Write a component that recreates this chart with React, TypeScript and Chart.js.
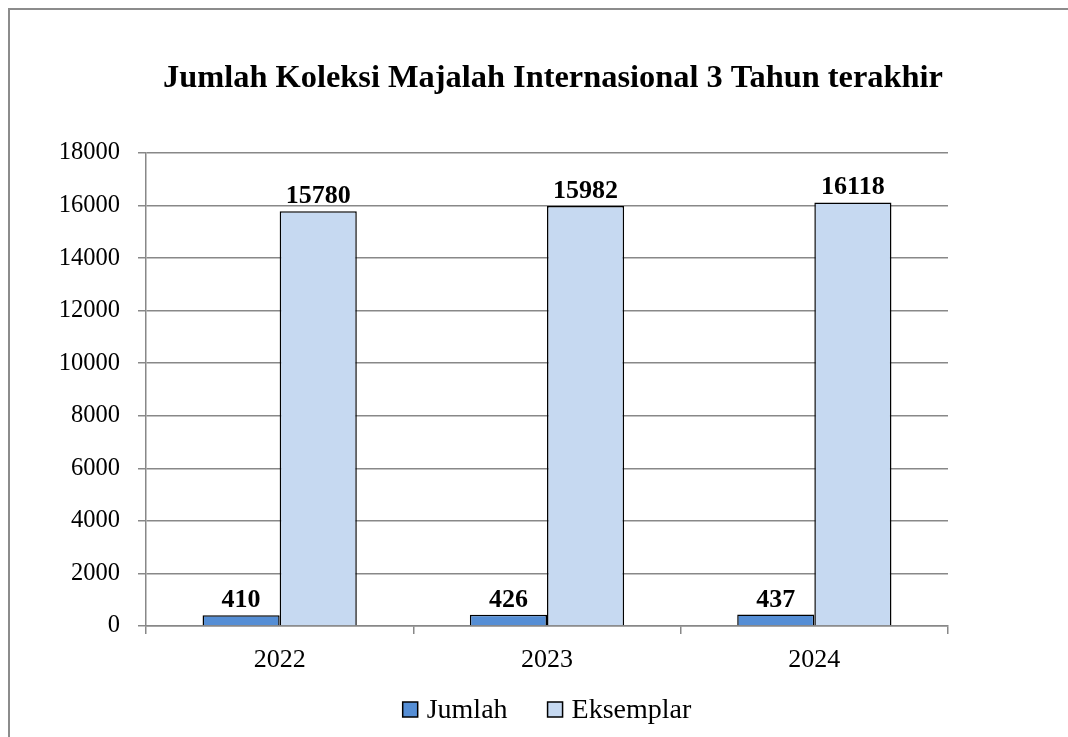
import React, { useEffect, useRef } from "react";
import { Chart, registerables } from "chart.js";

Chart.register(...registerables);

const categories = ["2022", "2023", "2024"];
const jumlahValues = [410, 426, 437];
const eksemplarValues = [15780, 15982, 16118];
const seriesNames = ["Jumlah", "Eksemplar"];
const seriesColors = ["#558ED5", "#C6D9F1"];
const titleText = "Jumlah Koleksi Majalah Internasional 3 Tahun terakhir";

const FONT = "'Liberation Serif', 'Times New Roman', serif";

const valueLabels = {
  id: "valueLabels",
  afterDatasetsDraw(chart: any) {
    const ctx = chart.ctx;
    ctx.save();
    ctx.font = `bold 26px ${FONT}`;
    ctx.fillStyle = "#000";
    ctx.textAlign = "center";
    ctx.textBaseline = "alphabetic";
    chart.data.datasets.forEach((ds: any, i: number) => {
      const meta = chart.getDatasetMeta(i);
      meta.data.forEach((bar: any, j: number) => {
        ctx.fillText(String(ds.data[j]), bar.x, bar.y - 8);
      });
    });
    ctx.restore();
  },
};

const titleAndLegend = {
  id: "titleAndLegend",
  afterDraw(chart: any) {
    const ctx = chart.ctx;
    const area = chart.chartArea;
    ctx.save();
    // title
    ctx.font = `bold 32.4px ${FONT}`;
    ctx.fillStyle = "#000";
    ctx.textAlign = "center";
    ctx.textBaseline = "alphabetic";
    ctx.fillText(titleText, 553, 87);
    // legend
    ctx.font = `28px ${FONT}`;
    const box = 15;
    const gap = 9;
    const itemGap = 40;
    const widths = chart.data.datasets.map((ds: any) => ctx.measureText(ds.label).width);
    const total =
      widths.reduce((a: number, w: number) => a + box + gap + w, 0) + itemGap * (widths.length - 1);
    let x = (area.left + area.right) / 2 - total / 2;
    const cy = 709.5;
    ctx.textAlign = "left";
    ctx.textBaseline = "middle";
    chart.data.datasets.forEach((ds: any, i: number) => {
      ctx.fillStyle = ds.backgroundColor;
      ctx.fillRect(x, cy - box / 2, box, box);
      ctx.strokeStyle = "#000";
      ctx.lineWidth = 1.5;
      ctx.strokeRect(x, cy - box / 2, box, box);
      ctx.fillStyle = "#000";
      ctx.fillText(ds.label, x + box + gap, cy + 1);
      x += box + gap + widths[i] + itemGap;
    });
    ctx.restore();
  },
};

export default function App() {
  const ref = useRef<HTMLCanvasElement>(null);
  useEffect(() => {
    if (!ref.current) return;
    const chart = new Chart(ref.current, {
      type: "bar",
      data: {
        labels: categories,
        datasets: [
          {
            label: seriesNames[0],
            data: jumlahValues,
            backgroundColor: seriesColors[0],
            borderColor: "#000",
            borderWidth: 1.5,
            categoryPercentage: 0.577,
            barPercentage: 1,
          },
          {
            label: seriesNames[1],
            data: eksemplarValues,
            backgroundColor: seriesColors[1],
            borderColor: "#000",
            borderWidth: 1.5,
            categoryPercentage: 0.577,
            barPercentage: 1,
          },
        ],
      },
      options: {
        animation: false,
        responsive: false,
        maintainAspectRatio: false,
        layout: { padding: { left: 0, right: 120, top: 153, bottom: 49 } },
        plugins: {
          title: { display: false },
          legend: { display: false },
          tooltip: { enabled: false },
        },
        scales: {
          x: {
            grid: {
              display: true,
              drawOnChartArea: false,
              drawTicks: true,
              tickLength: 8,
              color: "#888",
              lineWidth: 1.5,
              offset: true,
            },
            border: { color: "#888", width: 1.5 },
            ticks: {
              color: "#000",
              font: { family: FONT, size: 26 },
              padding: 11,
            },
            afterFit: (s: any) => {
              s.height = 62;
            },
          },
          y: {
            min: 0,
            max: 18000,
            ticks: {
              stepSize: 2000,
              color: "#000",
              font: { family: FONT, size: 24.5 },
              padding: 18,
              callback: (v: any) => String(v),
            },
            grid: { color: "#888", lineWidth: 1.5, tickLength: 8 },
            border: { color: "#888", width: 1.5 },
            afterFit: (s: any) => {
              s.width = 146;
            },
          },
        },
      },
      plugins: [valueLabels, titleAndLegend],
    });
    return () => chart.destroy();
  }, []);
  return (
    <div
      style={{
        position: "fixed",
        left: 0,
        top: 0,
        width: 1068,
        height: 737,
        overflow: "hidden",
        background: "#fff",
      }}
    >
      <div
        style={{
          position: "absolute",
          left: 8,
          top: 8,
          width: 1200,
          height: 900,
          border: "2px solid #8c8c8c",
        }}
      />
      <canvas
        ref={ref}
        width={1068}
        height={737}
        style={{ position: "absolute", left: 0, top: 0 }}
      />
    </div>
  );
}
